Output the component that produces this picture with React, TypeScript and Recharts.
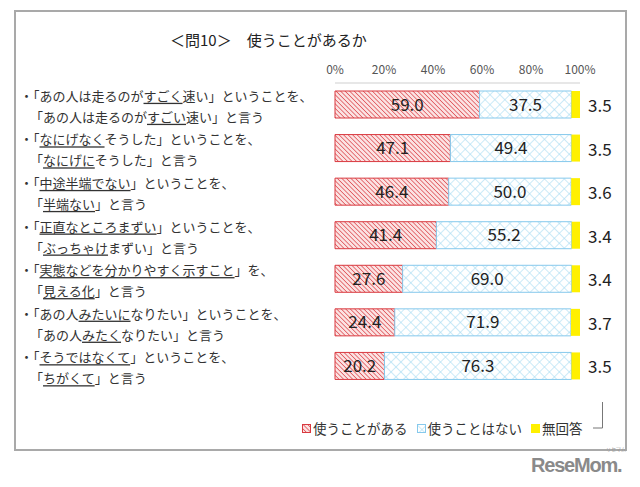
import React from "react";
import { BarChart, Bar, XAxis, YAxis, Legend, LabelList } from "recharts";

const keys = ["q1", "q2", "q3", "q4", "q5", "q6", "q7"];
// [..] marks the underlined part
const line1 = [
  "・「あの人は走るのが[すごく]速い」ということを、",
  "・「[なにげなく]そうした」ということを、",
  "・「[中途半端でない]」ということを、",
  "・「[正直なところまずい]」ということを、",
  "・「[実態などを分かりやすく示すこと]」を、",
  "・「あの人[みたいに]なりたい」ということを、",
  "・「[そうではなくて]」ということを、",
];
const line2 = [
  "「あの人は走るのが[すごい]速い」と言う",
  "「[なにげに]そうした」と言う",
  "「[半端ない]」と言う",
  "「[ぶっちゃけ]まずい」と言う",
  "「[見える化]」と言う",
  "「あの人[みたく]なりたい」と言う",
  "「[ちがくて]」と言う",
];
const useVals = [59.0, 47.1, 46.4, 41.4, 27.6, 24.4, 20.2];
const notUseVals = [37.5, 49.4, 50.0, 55.2, 69.0, 71.9, 76.3];
const noAnswerVals = [3.5, 3.5, 3.6, 3.4, 3.4, 3.7, 3.5];
const ticks = [0, 20, 40, 60, 80, 100];
const seriesNames = ["使うことがある", "使うことはない", "無回答"];
const title = "＜問10＞　使うことがあるか";

const data = keys.map((k, i) => ({
  key: k,
  use: useVals[i],
  notUse: notUseVals[i],
  none: noAnswerVals[i],
}));

const FONT = "'Noto Sans CJK JP', 'Noto Sans', sans-serif";
const RED = "#d9393f";
const BLUE = "#86c9ec";
const YELLOW = "#fff000";

function parts(s: string) {
  return s.split(/(\[[^\]]+\])/).filter(Boolean).map((p, j) =>
    p.startsWith("[") ? (
      <tspan key={j} style={{ textDecoration: "underline" }}>{p.slice(1, -1)}</tspan>
    ) : (
      <tspan key={j}>{p}</tspan>
    )
  );
}

function CatTick(props: any) {
  const { x, y, payload } = props;
  const i = keys.indexOf(payload.value);
  const left = x - 307;
  return (
    <g fontFamily={FONT} fontSize={13} fill="#333">
      <text x={left} y={y - 10} dominantBaseline="central">{parts(line1[i])}</text>
      <text x={left + 10} y={y + 11} dominantBaseline="central">{parts(line2[i])}</text>
    </g>
  );
}

function NoneLabel(props: any) {
  const { x, y, width, height, value } = props;
  return (
    <text x={x + width + 8} y={y + height / 2} dominantBaseline="central" fontSize={17} fill="#222" fontFamily={FONT}>
      {Number(value).toFixed(1)}
    </text>
  );
}

function LegendContent() {
  const fills = ["url(#hatchRed)", "url(#crossBlue)", YELLOW];
  const strokes = [RED, BLUE, YELLOW];
  return (
    <div style={{ position: "relative", display: "flex", alignItems: "center", fontFamily: FONT, fontSize: 13.5, color: "#333", height: 20 }}>
      {seriesNames.map((n, i) => (
        <div key={n} style={{ display: "flex", alignItems: "center", marginRight: 9 }}>
          <svg width={9} height={9} style={{ marginRight: 2 }}>
            <rect x={0.5} y={0.5} width={8} height={8} fill={fills[i]} stroke={strokes[i]} />
          </svg>
          <span>{n}</span>
        </div>
      ))}
      {/* leader from the last 無回答 value down to its legend entry */}
      <svg width={14} height={30} style={{ position: "absolute", left: 289, top: -16, overflow: "visible" }}>
        <polyline points="11.5,0 11.5,26 2,26" fill="none" stroke="#777" strokeWidth={1} />
      </svg>
    </div>
  );
}

export default function App() {
  return (
    <div style={{ position: "relative", width: 640, height: 487, background: "#fff", margin: -8 }}>
      <div
        style={{
          position: "absolute", left: 14, top: 10, width: 609, height: 437,
          border: "2px solid #a9a9a9",
        }}
      />
      <div
        style={{
          position: "absolute", left: 170, top: 29, fontFamily: FONT, fontSize: 15, color: "#222",
          whiteSpace: "pre",
        }}
      >
        {title}
      </div>
      <div style={{ position: "absolute", left: 0, top: 0 }}>
        <BarChart
          width={640}
          height={487}
          data={data}
          layout="vertical"
          margin={{ top: 53, right: 60, left: 15, bottom: 79 }}
          barSize={27}
        >
          <defs>
            <pattern id="hatchRed" patternUnits="userSpaceOnUse" width={3.2} height={3.2} patternTransform="rotate(-45)">
              <rect width={3.2} height={3.2} fill="#fbe3e3" />
              <line x1={0} y1={0} x2={0} y2={3.2} stroke="#e05a5f" strokeWidth={1.6} />
            </pattern>
            <pattern id="crossBlue" patternUnits="userSpaceOnUse" width={7} height={7} patternTransform="rotate(45)">
              <rect width={7} height={7} fill="#fff" />
              <line x1={0} y1={0} x2={0} y2={7} stroke="#a9dcf3" strokeWidth={1.2} />
              <line x1={0} y1={0} x2={7} y2={0} stroke="#a9dcf3" strokeWidth={1.2} />
            </pattern>
          </defs>
          <XAxis
            type="number"
            orientation="top"
            domain={[0, 100]}
            ticks={ticks}
            tickFormatter={(v) => `${v}%`}
            tick={{ fontSize: 12, fill: "#555", fontFamily: FONT }}
            axisLine={{ stroke: "#cfcfcf" }}
            tickLine={false}
            tickMargin={3}
            height={30}
          />
          <YAxis
            type="category"
            dataKey="key"
            width={320}
            axisLine={false}
            tickLine={false}
            tick={<CatTick />}
          />
          <Legend
            content={<LegendContent />}
            wrapperStyle={{ position: "absolute", left: 302, top: 418, width: 320, height: 20 }}
          />
          <Bar dataKey="use" name={seriesNames[0]} stackId="a" fill="url(#hatchRed)" stroke={RED} strokeWidth={1} isAnimationActive={false}>
            <LabelList dataKey="use" position="center" fill="#222" fontSize={17} fontFamily={FONT} formatter={(v: any) => Number(v).toFixed(1)} />
          </Bar>
          <Bar dataKey="notUse" name={seriesNames[1]} stackId="a" fill="url(#crossBlue)" stroke={BLUE} strokeWidth={1} isAnimationActive={false}>
            <LabelList dataKey="notUse" position="center" fill="#222" fontSize={17} fontFamily={FONT} formatter={(v: any) => Number(v).toFixed(1)} />
          </Bar>
          <Bar dataKey="none" name={seriesNames[2]} stackId="a" fill={YELLOW} isAnimationActive={false}>
            <LabelList dataKey="none" content={<NoneLabel />} />
          </Bar>
        </BarChart>
      </div>
      <div
        style={{
          position: "absolute", left: 531, top: 453, fontFamily: "'Liberation Sans', Arial, sans-serif",
          fontWeight: 700, fontSize: 20, color: "#8a8a8a", lineHeight: "24px", letterSpacing: -1.2,
        }}
      >
        ReseMom.
      </div>
      <div
        style={{
          position: "absolute", left: 606, top: 446, fontFamily: FONT, fontSize: 5, color: "#999", lineHeight: "6px",
        }}
      >
        リセマム
      </div>
    </div>
  );
}
